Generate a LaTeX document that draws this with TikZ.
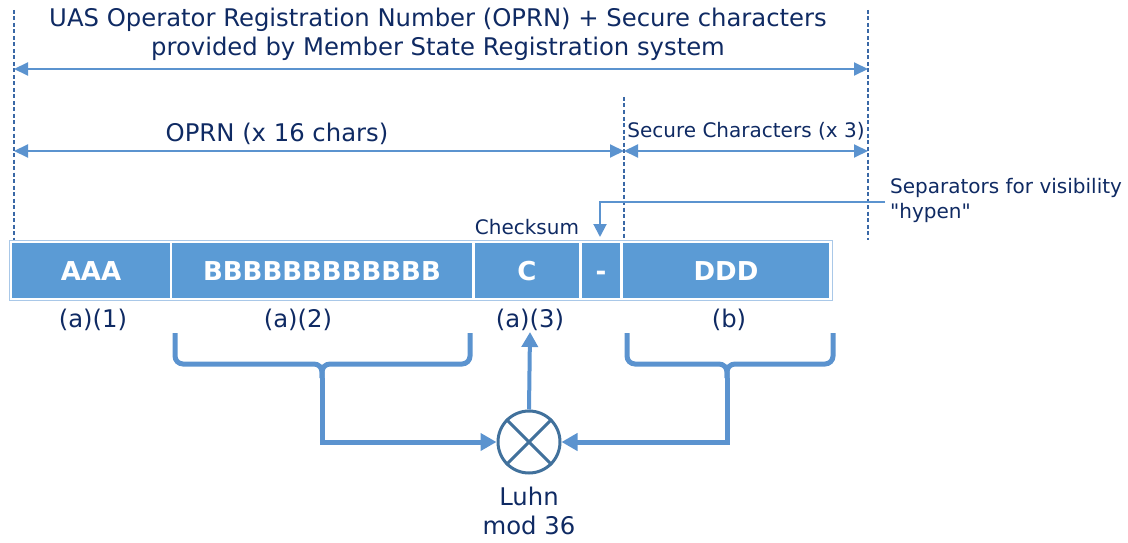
\documentclass[tikz,border=0pt]{standalone}
\usepackage{fontspec}
\setmainfont{DejaVu Sans}
\newfontfamily\plainfont{DejaVu Sans}
\usetikzlibrary{arrows.meta,shapes.geometric}
\definecolor{navy}{HTML}{0F2A63}
\definecolor{cellblue}{HTML}{5B9BD5}
\definecolor{lineblue}{HTML}{5B93CF}
\definecolor{dashblue}{HTML}{3A68A6}
\definecolor{ringblue}{HTML}{41719C}
\definecolor{rimblue}{HTML}{A9C8E8}
\tikzset{
  txt/.style={text=navy,font=\fontsize{24.3}{29}\selectfont,inner sep=0pt,align=center},
  smalltxt/.style={text=navy,font=\fontsize{20}{25}\selectfont,inner sep=0pt,align=left},
  cell/.style={fill=cellblue,draw=none,minimum height=55pt,inner sep=0pt,text height=19pt,text depth=0pt,text=white,font=\fontsize{26}{30}\selectfont\bfseries},
  guide/.style={draw=dashblue,line width=1.6pt,dash pattern=on 4pt off 2.5pt},
  dimarrow/.style={draw=lineblue,line width=2pt,{Triangle[length=14pt,width=13pt]}-{Triangle[length=14pt,width=13pt]}},
  thinarrow/.style={draw=lineblue,line width=2pt,-{Triangle[length=13pt,width=13pt]}},
  brace/.style={draw=lineblue,line width=5pt,rounded corners=8pt},
  fatarrow/.style={draw=lineblue,line width=5pt,-{Triangle[length=16pt,width=17pt]}},
}
\begin{document}
\begin{tikzpicture}[x=1pt,y=-1pt]
\useasboundingbox (0,0) rectangle (1128,543);
% guides
\coordinate (gLt) at (14,10);  \coordinate (gLb) at (14,240);
\coordinate (gRt) at (868,10); \coordinate (gRb) at (868,240);
\coordinate (gMt) at (624,97); \coordinate (gMb) at (624,240);
\draw[guide] (gLt) -- (gLb);
\draw[guide] (gRt) -- (gRb);
\draw[guide] (gMt) -- (gMb);
% title
\node[txt] (title) at (438,34) {UAS Operator Registration Number (OPRN) + Secure characters\\provided by Member State Registration system};
\coordinate (aL) at (14,69); \coordinate (aR) at (868,69);
\draw[dimarrow] (aL) -- (aR);
% OPRN
\node[txt] (oprn) at (277,134) {OPRN (x 16 chars)};
\coordinate (oL) at (14,151); \coordinate (oM) at (624,151); \coordinate (oR) at (868,151);
\draw[dimarrow] (oL) -- (oM);
\draw[dimarrow] (oM) -- (oR);
\node[smalltxt] (sec) at (746,131) {Secure Characters (x 3)};
% separators
\node[smalltxt,anchor=west] (sep) at (890,200) {Separators for visibility\\{\plainfont "hypen"}};
\coordinate (sA) at (885,202); \coordinate (sB) at (600,202); \coordinate (sC) at (600,237);
\draw[thinarrow] (sA) -- (sB) -- (sC);
\node[smalltxt] (chk) at (527,227) {Checksum};
% bar
\node[draw=rimblue,line width=1pt,fill=white,minimum width=823pt,minimum height=60pt,inner sep=0pt] (bar) at (420.5,270) {};
\node[cell,minimum width=158pt] (A) at (91,270.5) {AAA};
\node[cell,minimum width=300pt] (B) at (322,270.5) {BBBBBBBBBBBB};
\node[cell,minimum width=104pt] (C) at (527,270.5) {C};
\node[cell,minimum width=38pt] (H) at (601,270.5) {-};
\node[cell,minimum width=206pt] (D) at (726,270.5) {DDD};
% labels
\node[txt] (la1) at (93,320) {(a)(1)};
\node[txt] (la2) at (298,320) {(a)(2)};
\node[txt] (la3) at (530,320) {(a)(3)};
\node[txt] (lb) at (729,320) {(b)};
% luhn
\node[circle,draw=ringblue,line width=3pt,fill=white,minimum size=62pt,inner sep=0pt] (lu) at (529,442) {};
\draw[ringblue,line width=3pt] (lu.45) -- (lu.225) (lu.135) -- (lu.315);
\node[txt,text depth=0pt] (luhn) at (529,511) {Luhn\\mod 36};
% braces
\coordinate (bj1) at (322,364); \coordinate (bj2) at (727,364);
\coordinate (bt1) at (322,378); \coordinate (bt2) at (727,378);
\draw[brace] (175,333) -- (175,364) -- (bj1) -- (bt1);
\draw[brace] (470,333) -- (470,364) -- (bj1) -- (bt1);
\draw[brace] (627,333) -- (627,364) -- (bj2) -- (bt2);
\draw[brace] (833,333) -- (833,364) -- (bj2) -- (bt2);
\coordinate (bc1) at (322,442); \coordinate (bc2) at (727,442);
\draw[fatarrow] (bt1) -- (bc1) -- (lu.west);
\draw[fatarrow] (bt2) -- (bc2) -- (lu.east);
\coordinate (up) at (530,332);
\draw[draw=lineblue,line width=4pt,-{Triangle[length=15pt,width=16pt]}] (lu.north) -- (up);
\end{tikzpicture}
\end{document}
